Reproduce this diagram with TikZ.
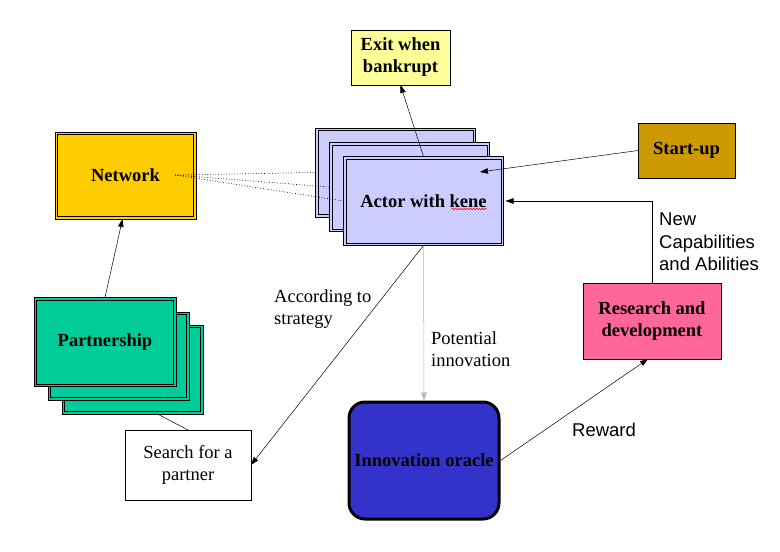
\documentclass[tikz,border=0pt]{standalone}
\usepackage{fontspec}
\setmainfont{Liberation Serif}
\setsansfont{Liberation Sans}
\usetikzlibrary{arrows.meta,calc,decorations.pathmorphing}
\definecolor{exitc}{HTML}{FFFF99}
\definecolor{netc}{HTML}{FFCC00}
\definecolor{actc}{HTML}{CCCCFF}
\definecolor{suc}{HTML}{CC9900}
\definecolor{rdc}{HTML}{FF6699}
\definecolor{orc}{HTML}{3333CC}
\definecolor{parc}{HTML}{00CC99}
\definecolor{grayline}{HTML}{B4B4B4}
\begin{document}
\begin{tikzpicture}[x=1pt,y=-1pt,
  lbl/.style={font=\fontsize{18.5}{22}\selectfont\bfseries, align=center, text=black},
  card/.style={draw=black, fill=#1, line width=0.8pt, inner sep=0pt, outer sep=0pt,
    path picture={\draw[black, line width=0.8pt]
      ($(path picture bounding box.north west)+(2.6,2.6)$) rectangle
      ($(path picture bounding box.south east)+(-2.6,-2.6)$);}},
  plain/.style={draw=black, fill=#1, line width=0.7pt, inner sep=0pt, outer sep=0pt},
  arr/.style={-{Triangle[length=8pt,width=5.5pt]}, line width=0.5pt},
  link/.style={line width=0.5pt},
  dotl/.style={dotted, line width=0.7pt},
  txt/.style={font=\fontsize{18.5}{22}\selectfont, align=left, anchor=west, inner sep=0pt},
  stxt/.style={font=\sffamily\fontsize{18.5}{22.5}\selectfont, align=left, anchor=west, inner sep=0pt}
]
\useasboundingbox (0,0) rectangle (780,552);

% Exit
\node[plain=exitc, minimum width=99pt, minimum height=55pt, lbl] (exit) at (400.5,57.5) {Exit when\\bankrupt};

% Network
\node[card=netc, minimum width=141pt, minimum height=87pt, lbl] (net) at (125.5,175.5) {Network};

% Actor stack
\node[card=actc, minimum width=160pt, minimum height=89pt] (a1) at (395.5,172.5) {};
\node[card=actc, minimum width=160pt, minimum height=89pt] (a2) at (409.5,187) {};
\node[card=actc, minimum width=160pt, minimum height=89pt, lbl] (a3) at (423.5,201) {Actor with kene};
\draw[red, line width=0.5pt, decorate, decoration={snake, amplitude=0.8pt, segment length=3pt}]
  ($(a3.center)+(28,8)$) -- ($(a3.center)+(63,8)$);

% Start-up
\node[plain=suc, minimum width=97pt, minimum height=55pt, lbl] (su) at (686.5,150.5) {Start-up};

% R&D
\node[plain=rdc, minimum width=138pt, minimum height=76pt, lbl] (rd) at (652,321) {Research and\\development};

% Oracle
\node[draw=black, fill=orc, line width=3pt, rounded corners=16pt, minimum width=150pt, minimum height=117pt, inner sep=0pt, lbl] (or) at (424,460.5) {Innovation oracle};

% Partnership stack
\node[card=parc, minimum width=141pt, minimum height=89pt] (p3) at (132.5,369.5) {};
\node[card=parc, minimum width=141pt, minimum height=88pt] (p2) at (118.5,356) {};
\node[card=parc, minimum width=142pt, minimum height=89pt, lbl] (p1) at (105,342) {Partnership};

% Search
\node[plain=white, minimum width=126pt, minimum height=70pt, font=\fontsize{18.5}{22}\selectfont, align=center] (se) at (188,465) {Search for a\\partner};

% Connectors
\coordinate (netsrc) at (175,175);
\draw[dotl] (netsrc) -- (a1.west);
\draw[dotl] (netsrc) -- (a2.west);
\draw[dotl] (netsrc) -- (a3.west);

\draw[arr] (a3.north) -- (exit.south);
\coordinate (sutip) at (480,172);
\draw[arr] (su.west) -- (sutip);
\draw[arr, shorten >=2pt] (rd.north) |- (a3.east);
\draw[arr] (a3.south) -- (se.east);
\draw[arr, grayline] (a3.south) -- (or.north);
\coordinate (rdtip) at ($(rd.south)+(-4,0)$);
\draw[arr] (or.east) -- (rdtip);
\draw[arr] (p1.north) -- ($(net.south)+(-3,0)$);
\coordinate (p3out) at ($(p3.south)+(25,0)$);
\draw[link] (p3out) -- (se.north);

% Labels
\node[txt] (lstrat) at (274,309) {According to\\strategy};
\node[txt] (linno) at (431,349) {Potential\\innovation};
\node[stxt] (lrew) at (572,430) {Reward};
\node[stxt] (lnew) at (659,242) {New\\Capabilities\\and Abilities};
\end{tikzpicture}
\end{document}
